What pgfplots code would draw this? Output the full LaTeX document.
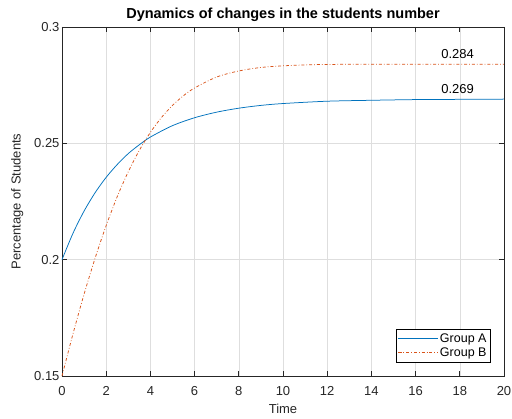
\documentclass[border=0pt]{standalone}
\usepackage{fontspec}
\setmainfont{Liberation Sans}
\usepackage{pgfplots}
\pgfplotsset{compat=1.18}

\definecolor{mblue}{rgb}{0,0.447,0.741}
\definecolor{morange}{rgb}{0.85,0.325,0.098}
\definecolor{axgray}{rgb}{0.15,0.15,0.15}

\begin{document}
\begin{tikzpicture}[font=\fontsize{13}{15}\selectfont]
  \begin{axis}[
    scale only axis,
    width=442pt, height=349pt,
    xmin=0, xmax=20, ymin=0.15, ymax=0.3,
    xtick={0,2,...,20},
    ytick={0.15,0.2,0.25,0.3},
    yticklabels={0.15,0.2,0.25,0.3},
    /pgf/number format/assume math mode=true,
    tick align=inside,
    major tick length=5pt,
    xmajorgrids, ymajorgrids,
    grid style={color=black!13, line width=0.5pt},
    axis line style={axgray, line width=0.6pt},
    tick style={axgray, line width=0.6pt},
    ticklabel style={text=axgray},
    xticklabel style={yshift=-7pt},
    yticklabel style={xshift=1pt},
    xlabel={Time},
    ylabel={Percentage of Students},
    xlabel style={text=axgray, yshift=-1pt},
    ylabel style={text=axgray, yshift=4pt},
    title={\fontsize{14.5}{16}\selectfont\bfseries Dynamics of changes in the students number},
    title style={yshift=-4pt},
    legend style={
      at={(0.97,0.04)}, anchor=south east,
      font=\fontsize{12.5}{14}\selectfont,
      cells={anchor=west},
      row sep=0pt,
      inner sep=2pt
    },
    legend image post style={xscale=2.3},
    clip=false
  ]
    \addplot[mblue, line width=0.75pt, smooth] coordinates {
      (0,0.2000) (0.5,0.2114) (1,0.2209) (1.5,0.2288) (2,0.2354)
      (2.5,0.2409) (3,0.2456) (3.5,0.2494) (4,0.2527) (5,0.2576)
      (6,0.2610) (7,0.2634) (8,0.2651) (9,0.2663) (10,0.2671)
      (12,0.2681) (14,0.2685) (16,0.2688) (18,0.2689) (20,0.2690)
    };
    \addlegendentry{Group A}
    \addplot[morange, line width=0.75pt, dash dot, smooth] coordinates {
      (0,0.1500) (0.5,0.1682) (1,0.1852) (1.5,0.2007) (2,0.2147)
      (2.5,0.2271) (3,0.2378) (3.5,0.2470) (4,0.2547) (4.5,0.2611)
      (5,0.2663) (5.5,0.2705) (6,0.2738) (7,0.2785) (8,0.2811)
      (9,0.2826) (10,0.2833) (11,0.2837) (12,0.2839) (14,0.2840)
      (16,0.2840) (18,0.2840) (20,0.2840)
    };
    \addlegendentry{Group B}
    \node[anchor=south, text=black, yshift=2pt] at (axis cs:17.9,0.2840) {0.284};
    \node[anchor=south, text=black, yshift=2pt] at (axis cs:17.9,0.2690) {0.269};
  \end{axis}
  \pgfresetboundingbox
  \path[use as bounding box] (current axis.south west) ++(-62pt,-43pt) rectangle ++(512pt,419pt);
\end{tikzpicture}
\end{document}
